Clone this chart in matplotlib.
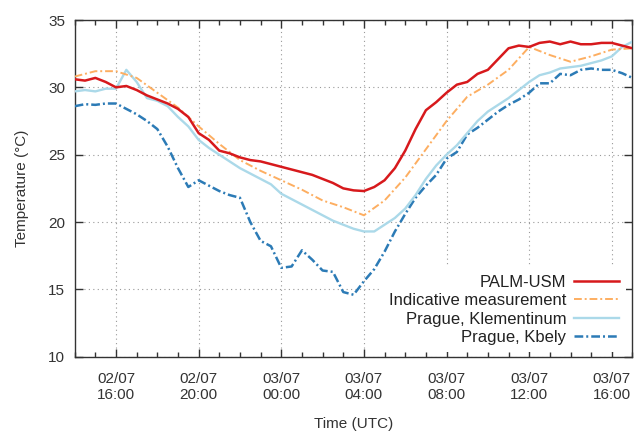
import numpy as np
import pandas as pd
import matplotlib
matplotlib.use("Agg")
import matplotlib.pyplot as plt
import matplotlib.dates as mdates

plt.rcParams['font.family'] = ['Liberation Sans', 'DejaVu Sans']

# half-hourly series, 02/07 14:00 -> 03/07 17:00
t_half = pd.date_range('2019-07-02 14:00', '2019-07-03 17:00', freq='30min')
t_hour = pd.date_range('2019-07-02 14:00', '2019-07-03 17:00', freq='60min')

palm_usm = [30.6, 30.5, 30.7, 30.4, 30.0, 30.1, 29.8, 29.4, 29.1, 28.8,
            28.4, 27.8, 26.6, 26.1, 25.3, 25.1, 24.8, 24.6, 24.5, 24.3,
            24.1, 23.9, 23.7, 23.5, 23.2, 22.9, 22.5, 22.35, 22.3, 22.6,
            23.1, 24.0, 25.3, 26.9, 28.3, 28.9, 29.6, 30.2, 30.4, 31.0,
            31.3, 32.1, 32.9, 33.1, 33.0, 33.3, 33.4, 33.2, 33.4, 33.2,
            33.2, 33.3, 33.3, 33.1, 32.9]

indicative = [30.8, 31.2, 31.2, 30.7, 29.6, 28.5, 27.1, 25.8, 24.6, 23.8,
              23.1, 22.4, 21.6, 21.1, 20.5, 21.6, 23.3, 25.4, 27.5, 29.3,
              30.2, 31.3, 33.0, 32.4, 31.9, 32.3, 32.8, 32.9]

klementinum = [29.7, 29.8, 29.7, 29.9, 29.9, 31.3, 30.4, 29.2, 29.0, 28.6,
               27.8, 27.1, 26.1, 25.5, 25.0, 24.5, 24.0, 23.6, 23.2, 22.8,
               22.1, 21.7, 21.3, 20.9, 20.5, 20.1, 19.8, 19.5, 19.3, 19.3,
               19.8, 20.3, 21.0, 22.0, 23.2, 24.2, 25.0, 25.7, 26.6, 27.5,
               28.2, 28.7, 29.2, 29.8, 30.4, 30.9, 31.1, 31.4, 31.5, 31.6,
               31.8, 32.0, 32.3, 33.0, 33.4]

kbely = [28.6, 28.75, 28.7, 28.8, 28.8, 28.4, 28.0, 27.5, 26.9, 25.6,
         24.0, 22.6, 23.1, 22.7, 22.3, 22.0, 21.8, 20.0, 18.6, 18.2,
         16.6, 16.7, 17.9, 17.2, 16.4, 16.3, 14.8, 14.6, 15.6, 16.5,
         17.8, 19.3, 20.6, 21.8, 22.7, 23.5, 24.7, 25.2, 26.5, 27.0,
         27.6, 28.2, 28.7, 29.1, 29.6, 30.3, 30.3, 31.0, 30.9, 31.3,
         31.4, 31.3, 31.3, 31.05, 30.7]

fig = plt.figure(figsize=(6.34, 4.33), dpi=100)
ax = fig.add_axes([0.1178, 0.1762, 0.8798, 0.7776])

ax.plot(t_half, kbely, color='#2c7bb6', lw=1.8, ls=(0, (3.5, 1.2, 0.8, 1.2)),
        label='Prague, Kbely', zorder=3)
ax.plot(t_half, klementinum, color='#abd9e9', lw=1.7,
        label='Prague, Klementinum', zorder=4)
ax.plot(t_hour, indicative, color='#fdae61', lw=1.4, ls=(0, (4, 1.5, 1, 1.5)),
        label='Indicative measurement', zorder=5)
ax.plot(t_half, palm_usm, color='#d7191c', lw=1.8, label='PALM-USM', zorder=6)

ax.set_xlim(t_half[0], t_half[-1])
ax.set_ylim(10, 35)
ax.set_yticks(np.arange(10, 36, 5))

ax.xaxis.set_major_locator(mdates.HourLocator(byhour=[0, 4, 8, 12, 16, 20]))
ax.xaxis.set_minor_locator(mdates.HourLocator())
ax.xaxis.set_major_formatter(mdates.DateFormatter('%d/%m\n%H:%M'))

ax.tick_params(which='both', direction='in', top=True, right=True,
               colors='#333333', labelsize=11)
ax.tick_params(which='major', length=6, width=1, pad=7)
ax.tick_params(axis='x', which='major', pad=11)
ax.tick_params(which='minor', length=3.5, width=1)
for lab in ax.get_xticklabels():
    lab.set_linespacing(1.2)
for s in ax.spines.values():
    s.set_color('#333333')
    s.set_linewidth(1)

ax.grid(True, which='major', color='#999999', lw=0.8, ls=(0, (1, 3)))

ax.set_xlabel('Time (UTC)', fontsize=11, color='#333333', labelpad=11)
ax.set_ylabel('Temperature (°C)', fontsize=11, color='#333333', labelpad=14)

handles, labels = ax.get_legend_handles_labels()
leg = ax.legend(handles[::-1], labels[::-1], loc='lower right',
                markerfirst=False, fontsize=12, handlelength=2.7,
                handletextpad=0.45, labelspacing=0.2, borderpad=0.45,
                framealpha=1, facecolor='white', edgecolor='none',
                fancybox=False, bbox_to_anchor=(1.004, -0.012))
leg.set_zorder(10)
for txt in leg.get_texts():
    txt.set_color('#222222')

fig.savefig('out.png', dpi=100)
